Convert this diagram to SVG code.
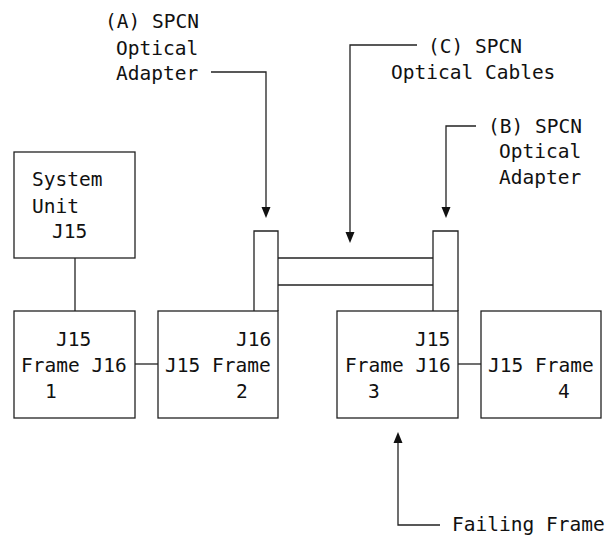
<svg xmlns="http://www.w3.org/2000/svg" width="609" height="538" viewBox="0 0 609 538">
<style>
.box{fill:none;stroke:#222;stroke-width:1.3}
.ln{fill:none;stroke:#222;stroke-width:1.3}
.ah{fill:#111;stroke:none}
text{font-family:"DejaVu Sans Mono","Liberation Mono",monospace;font-size:19.5px;fill:#111}
</style>
<rect width="609" height="538" fill="#fff"/>
<g id="connectors">
<line class="ln" x1="75" y1="258" x2="75" y2="311"/>
<line class="ln" x1="135" y1="364" x2="158" y2="364"/>
<line class="ln" x1="458" y1="364" x2="481" y2="364"/>
<line class="ln" x1="278" y1="258" x2="433" y2="258"/>
<line class="ln" x1="278" y1="285" x2="433" y2="285"/>
<polyline class="ln" points="211,72 266,72 266,208"/>
<polygon class="ah" points="261.5,207 270.5,207 266,218"/>
<polyline class="ln" points="417,45 350,45 350,233"/>
<polygon class="ah" points="345.5,232 354.5,232 350,243"/>
<polyline class="ln" points="476,126 446,126 446,208"/>
<polygon class="ah" points="441.5,207 450.5,207 446,218"/>
<polyline class="ln" points="440,525 398,525 398,442"/>
<polygon class="ah" points="393.5,443 402.5,443 398,432"/>
</g>
<g id="system-unit">
<rect class="box" x="14" y="152" width="121" height="106"/>
<text x="32" y="186">System</text>
<text x="32" y="213">Unit</text>
<text x="52" y="238">J15</text>
</g>
<g id="adapter-a">
<polyline class="ln" points="254,311 254,231 278,231 278,311"/>
</g>
<g id="adapter-b">
<polyline class="ln" points="433,311 433,231 458,231 458,311"/>
</g>
<g id="frame-1">
<rect class="box" x="14" y="311" width="121" height="107"/>
<text x="56" y="346">J15</text>
<text x="21" y="372">Frame J16</text>
<text x="45" y="398">1</text>
</g>
<g id="frame-2">
<rect class="box" x="158" y="311" width="120" height="107"/>
<text x="236" y="346">J16</text>
<text x="165" y="372">J15 Frame</text>
<text x="236" y="398">2</text>
</g>
<g id="frame-3">
<rect class="box" x="337" y="311" width="121" height="107"/>
<text x="415" y="346">J15</text>
<text x="345" y="372">Frame J16</text>
<text x="368" y="398">3</text>
</g>
<g id="frame-4">
<rect class="box" x="481" y="311" width="120" height="107"/>
<text x="488" y="372">J15 Frame</text>
<text x="558" y="398">4</text>
</g>
<g id="label-a">
<text x="105" y="28">(A) SPCN</text>
<text x="116" y="55">Optical</text>
<text x="116" y="80">Adapter</text>
</g>
<g id="label-c">
<text x="428" y="53">(C) SPCN</text>
<text x="391" y="79">Optical Cables</text>
</g>
<g id="label-b">
<text x="488" y="133">(B) SPCN</text>
<text x="499" y="158">Optical</text>
<text x="499" y="184">Adapter</text>
</g>
<g id="label-failing">
<text x="452" y="531">Failing Frame</text>
</g>
</svg>
